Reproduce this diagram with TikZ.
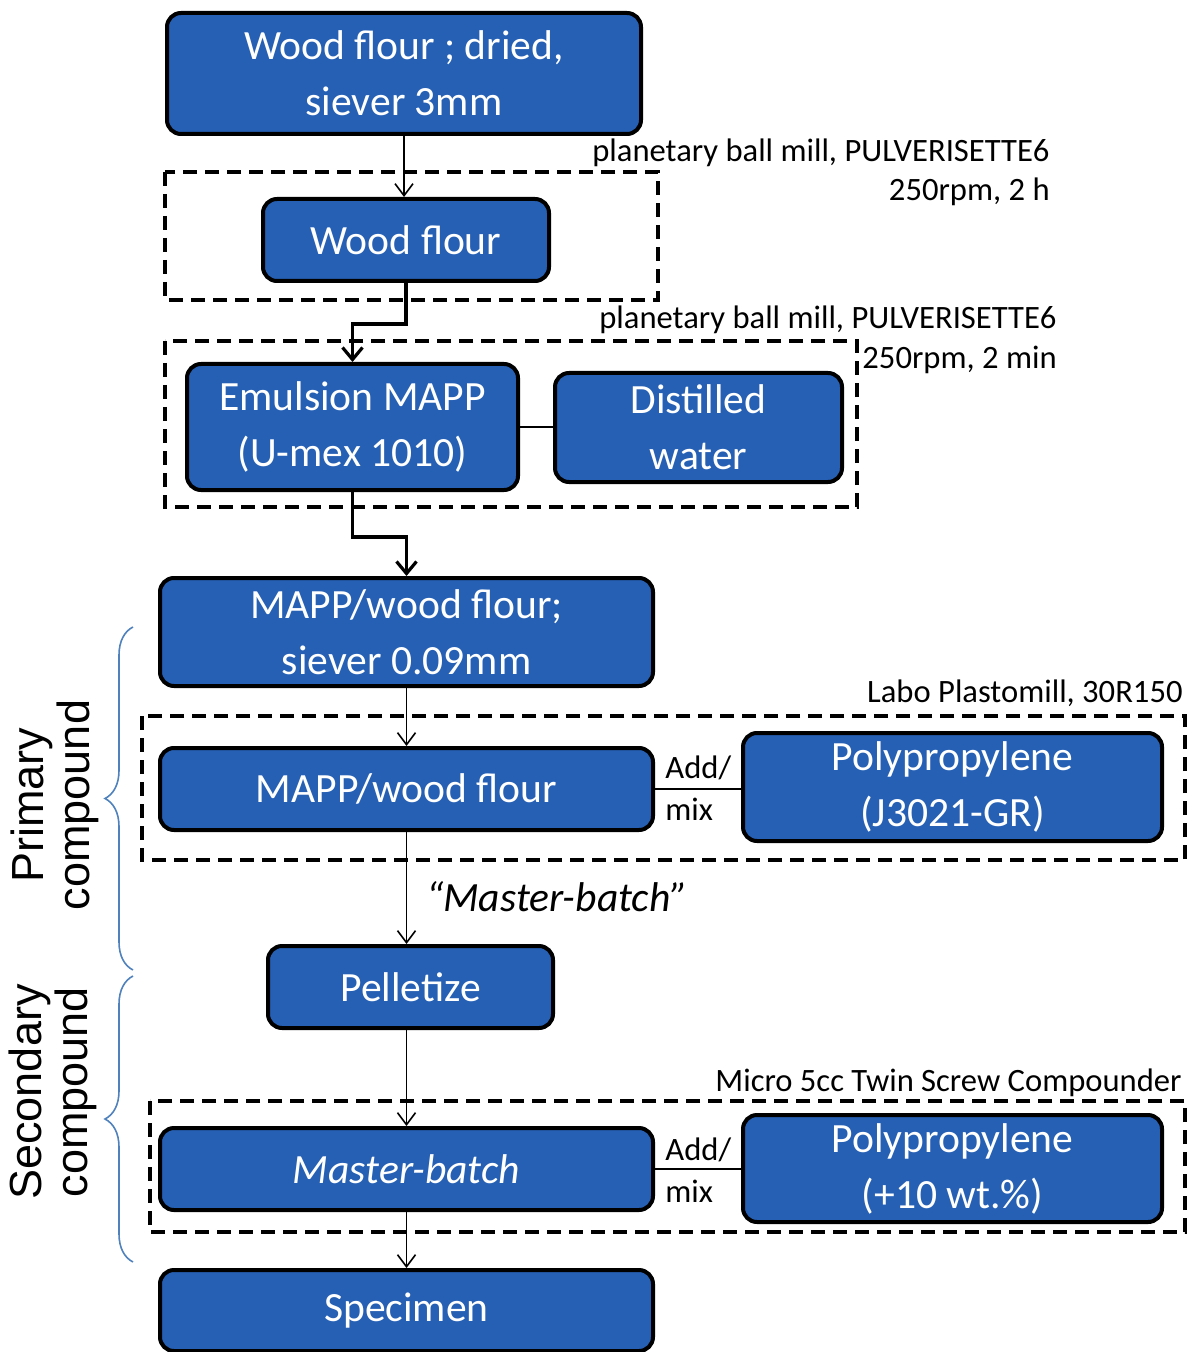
\documentclass[tikz,border=0pt]{standalone}
\usepackage{fontspec}
\setmainfont{Carlito}
\newfontfamily\arialf{Liberation Sans}
\usetikzlibrary{arrows.meta,decorations.pathreplacing}
\definecolor{boxblue}{HTML}{2660B4}
\definecolor{braceblue}{HTML}{4F81BD}
\begin{document}
\begin{tikzpicture}[x=0.5pt,y=-0.5pt,
 blk/.style={draw=black, line width=2pt, fill=boxblue, rounded corners=7pt, text=white, align=center, font=\fontsize{20.8}{28}\selectfont, inner sep=0pt},
 dbox/.style={draw=black, line width=2pt, dash pattern=on 7pt off 4pt},
 lbl/.style={font=\fontsize{16.3}{20}\selectfont, inner sep=0pt},
 thinarr/.style={line width=0.8pt, -{Straight Barb[length=6pt,width=9pt]}},
 thickarr/.style={line width=1.6pt, -{Straight Barb[length=6pt,width=10pt]}},
 link/.style={line width=0.8pt},
 brc/.style={draw=braceblue, line width=0.8pt, decorate, decoration={brace, amplitude=14pt}},
 side/.style={font=\arialf\fontsize{22.5}{23}\selectfont, rotate=90, inner sep=0pt, align=center}
]
\useasboundingbox (0,0) rectangle (1195,1352);

% dashed process frames
\draw[dbox] (165,172) rectangle (658,300);
\draw[dbox] (165,341) rectangle (857,507);
\draw[dbox] (142,716) rectangle (1185,860);
\draw[dbox] (150,1101) rectangle (1185,1232);

% boxes
\node[blk, minimum width=237pt, minimum height=60.5pt] (b1) at (404,73.5) {Wood flour ; dried,\\siever 3mm};
\node[blk, minimum width=143pt, minimum height=41pt] (wf) at (406,240) {Wood flour};
\node[blk, minimum width=165.5pt, minimum height=63pt] (em) at (352.5,427) {Emulsion MAPP\\(U-mex 1010)};
\node[blk, minimum width=143.5pt, minimum height=54.5pt] (dw) at (698.5,427.5) {Distilled\\water};
\node[blk, minimum width=246.5pt, minimum height=54pt] (ms) at (406.5,632) {MAPP/wood flour;\\siever 0.09mm};
\node[blk, minimum width=246.5pt, minimum height=41pt] (mw) at (406.5,789) {MAPP/wood flour};
\node[blk, minimum width=209.5pt, minimum height=54pt] (pp1) at (952.5,787) {Polypropylene\\(J3021-GR)};
\node[blk, minimum width=142.5pt, minimum height=41pt] (pel) at (410.5,987) {Pelletize};
\node[blk, minimum width=246.5pt, minimum height=41pt] (mb) at (406.5,1169) {\itshape Master-batch};
\node[blk, minimum width=209.5pt, minimum height=53.5pt] (pp2) at (952.5,1168.5) {Polypropylene\\(+10 wt.\%)};
\node[blk, minimum width=246.5pt, minimum height=40.5pt] (sp) at (406.5,1310.5) {Specimen};

% labels
\node[lbl, anchor=base east] (l1a) at (1050,162) {planetary ball mill, PULVERISETTE6};
\node[lbl, anchor=base east] (l1b) at (1050,201) {250rpm, 2 h};
\node[lbl, anchor=base east] (l2a) at (1057,329) {planetary ball mill, PULVERISETTE6};
\node[lbl, anchor=base east] (l2b) at (1057,369) {250rpm, 2 min};
\node[lbl, anchor=base east] (l3) at (1183,702) {Labo Plastomill, 30R150};
\node[lbl, anchor=base east] (l4) at (1182,1091) {Micro 5cc Twin Screw Compounder};
\node[lbl, anchor=base west] (a1) at (665,778) {Add/};
\node[lbl, anchor=base west] (m1) at (665,820) {mix};
\node[lbl, anchor=base west] (a2) at (665,1160) {Add/};
\node[lbl, anchor=base west] (m2) at (665,1202) {mix};
\node[font=\itshape\fontsize{20.8}{25}\selectfont, inner sep=0pt] (mbq) at (557,897) {“Master-batch”};

% connectors
\draw[thinarr] (b1.south) -- (b1.south |- wf.north);
\draw[thickarr] (wf.south) -- ++(0,41) -| (em.north);
\draw[thickarr] (em.south) -- ++(0,45) -| (ms.north);
\draw[thinarr] (ms.south) -- (mw.north);
\draw[thinarr] (mw.south) -- (mw.south |- pel.north);
\draw[thinarr] (mb.north |- pel.south) -- (mb.north);
\draw[thinarr] (mb.south) -- (sp.north);
\draw[link] (em.east) -- (em.east -| dw.west);
\draw[link] (mw.east) -- (mw.east -| pp1.west);
\draw[link] (mb.east) -- (mb.east -| pp2.west);

% braces and side labels
\draw[brc] (133,970) -- (133,627);
\draw[brc] (133,1262) -- (133,976);
\node[side] (prim) at (55,805) {Primary\\compound};
\node[side] (sec) at (53,1092) {Secondary\\compound};
\end{tikzpicture}
\end{document}
